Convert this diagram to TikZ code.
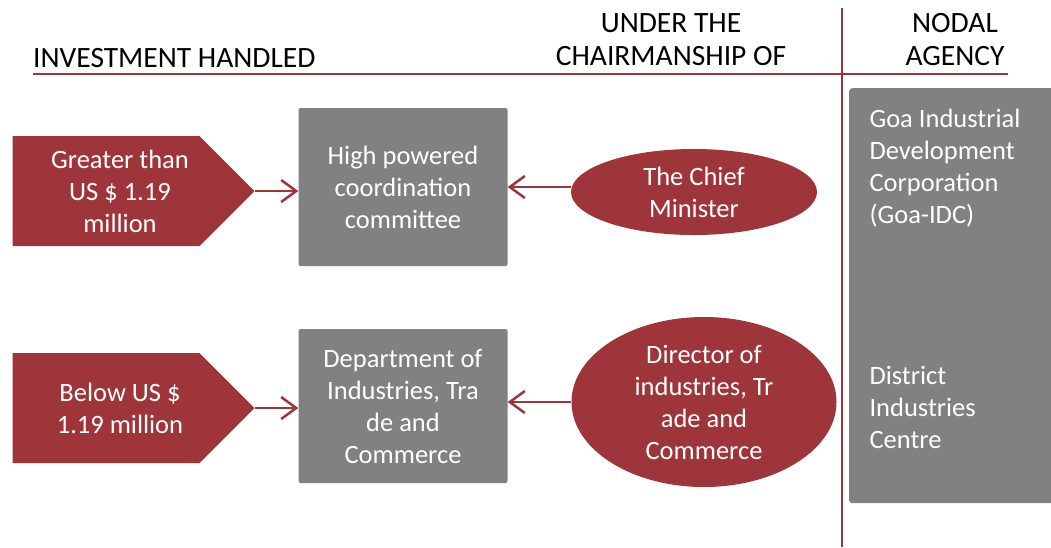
\documentclass[tikz,border=0pt]{standalone}
\usepackage{fontspec}
\setmainfont{Carlito}
\usetikzlibrary{shapes.geometric, shapes.symbols, arrows.meta, positioning}
\definecolor{goared}{HTML}{9E353A}
\definecolor{goagray}{HTML}{808183}

\begin{document}
\begin{tikzpicture}[x=1pt, y=-1pt,
  every node/.style={font=\fontsize{26.5}{32}\selectfont, align=center},
  head/.style={text=black, inner sep=0pt, font=\fontsize{29.5}{33}\selectfont},
  invest/.style={signal, signal to=east, signal pointer angle=90, fill=goared,
    text width=180pt, inner xsep=3.5pt, minimum height=110pt},
  wtxt/.style={text=white},
  body/.style={rectangle, rounded corners=2pt, fill=goagray, text=white,
    minimum width=209pt, minimum height=158pt},
  chair/.style={ellipse, fill=goared, text=white, inner sep=0pt},
  link/.style={draw=goared, line width=2.5pt, -{Straight Barb[length=15pt, width=22pt]}},
  rule/.style={draw=goared, line width=2.5pt}]
  \useasboundingbox (0,0) rectangle (1051,547);

  % headers
  \node[head, anchor=base west] (hinv) at (33,67) {INVESTMENT HANDLED};
  \node[head, anchor=base] (hchair) at (671,65) {UNDER THE\\CHAIRMANSHIP OF};
  \node[head, anchor=base] (hnodal) at (955,65) {NODAL\\AGENCY};
  \draw[rule] (33,74) -- (1008,74);
  \draw[rule] (842,8) -- (842,547);

  % nodal agency column
  \node[rectangle, rounded corners=3pt, fill=goagray, minimum width=215pt,
    minimum height=415pt, anchor=north west] (agency) at (849,88) {};
  \node[wtxt, align=left, anchor=north west] (idc) at (866,106)
    {Goa Industrial\\Development\\Corporation\\(Goa-IDC)};
  \node[wtxt, align=left, anchor=north west] (dic) at (866,363)
    {District\\Industries\\Centre};

  % upper row
  \node[invest, label={[wtxt, xshift=14pt]center:Greater than\\US \$ 1.19\\million}] (gt) at (106,191) {};
  \node[body] (hpc) at (403,187) {High powered\\coordination\\committee};
  \node[chair, minimum width=246pt, minimum height=86pt] (cm) at (694,192) {The Chief\\Minister};
  \draw[link] (gt.east) -- (gt.east -| hpc.west);
  \draw[link] (cm.west |- hpc) -- (hpc.east);

  % lower row
  \node[invest, label={[wtxt, xshift=14pt]center:Below US \$\\1.19 million}] (bl) at (106,408) {};
  \node[body, minimum height=154pt] (dept) at (403,406) {Department of\\Industries, Tra\\de and\\Commerce};
  \node[chair, minimum width=265pt, minimum height=170pt] (dir) at (704,402) {Director of\\industries, Tr\\ade and\\Commerce};
  \draw[link] (bl.east) -- (bl.east -| dept.west);
  \draw[link] (dir.west) -- (dir.west -| dept.east);
\end{tikzpicture}
\end{document}
